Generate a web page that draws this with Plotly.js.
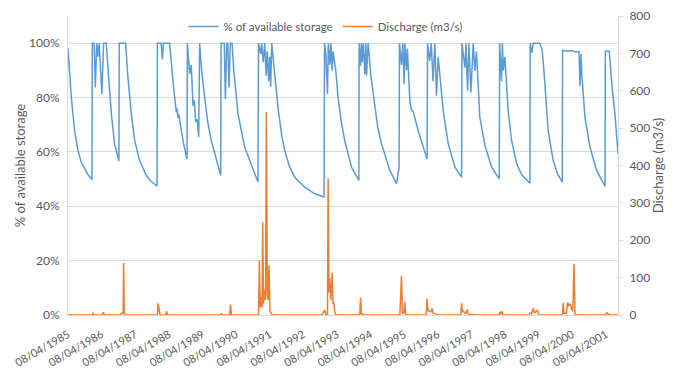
<!DOCTYPE html>
<html>
<head>
<meta charset="utf-8">
<script src="https://cdn.plot.ly/plotly-3.0.1.min.js"></script>
<style>
  html, body { margin: 0; padding: 0; background: #ffffff; }
  #chart { width: 680px; height: 372px; }
</style>
</head>
<body>
<div id="chart"></div>
<script>
// ---- Data ----
const storageDates = [
  "1985-04-08","1985-05-14","1985-06-19","1985-07-25","1985-09-01","1985-10-06","1985-11-10","1985-12-24",
  "1985-12-28","1986-01-17","1986-01-30","1986-02-14","1986-02-27","1986-03-12","1986-04-11","1986-04-30","1986-05-29",
  "1986-06-18","1986-07-23","1986-08-27","1986-10-02","1986-10-13",
  "1986-10-17","1986-12-25",
  "1987-01-19","1987-02-25","1987-04-02","1987-05-26","1987-08-07","1987-10-01","1987-12-01",
  "1987-12-05","1988-01-15","1988-01-28","1988-02-09","1988-04-16",
  "1988-05-22","1988-06-28","1988-07-07","1988-07-16","1988-07-23","1988-08-09","1988-09-09","1988-10-08","1988-10-22",
  "1988-10-26","1988-11-20","1988-12-07","1988-12-26","1989-01-08","1989-01-25","1989-02-10","1989-02-26",
  "1989-03-08","1989-03-30","1989-05-02","1989-06-04","1989-07-14","1989-09-07","1989-10-23",
  "1989-10-27","1989-11-30","1989-12-13","1989-12-27","1990-01-07","1990-01-21","1990-02-04","1990-02-23",
  "1990-03-14","1990-04-29","1990-07-11","1990-09-21","1990-12-02",
  "1990-12-07","1991-01-01","1991-01-11","1991-01-28","1991-02-13","1991-03-01","1991-03-12","1991-03-28","1991-04-08","1991-04-19","1991-04-30","1991-05-15",
  "1991-05-27","1991-07-07","1991-08-17","1991-09-18","1991-11-11","1992-01-05","1992-04-23","1992-08-09","1992-11-19",
  "1992-11-24","1992-12-08","1992-12-26","1993-01-04","1993-01-21","1993-02-01","1993-02-15","1993-02-25",
  "1993-03-26","1993-04-20","1993-05-25","1993-07-02","1993-09-13","1993-12-02",
  "1993-12-05","1993-12-20","1993-12-29","1994-01-08","1994-01-19","1994-02-06","1994-02-16","1994-02-23","1994-03-13",
  "1994-04-11","1994-05-24","1994-06-25","1994-08-05","1994-11-03","1995-01-15","1995-02-01","1995-02-12",
  "1995-02-16","1995-03-10","1995-03-24","1995-04-08","1995-04-16","1995-05-04","1995-05-13",
  "1995-06-09","1995-06-25","1995-07-14","1995-09-07","1995-10-31","1995-12-13",
  "1995-12-18","1996-01-11","1996-01-27","1996-02-16","1996-03-06","1996-03-24","1996-04-11",
  "1996-04-29","1996-06-05","1996-07-30","1996-10-11","1996-12-22",
  "1996-12-26","1997-01-27","1997-02-07","1997-02-25","1997-03-11","1997-04-02","1997-04-27","1997-05-15","1997-06-01",
  "1997-07-08","1997-09-02","1997-11-13","1998-02-04",
  "1998-02-08","1998-03-01","1998-03-10","1998-03-21","1998-04-06",
  "1998-04-22","1998-05-12","1998-06-18","1998-08-12","1998-10-08","1999-01-03",
  "1999-01-06","1999-01-25","1999-02-08","1999-04-19","1999-05-07","1999-05-16",
  "1999-06-07","1999-07-01","1999-07-20","1999-09-13","1999-10-29","1999-12-20",
  "1999-12-24","2000-02-09","2000-04-04","2000-05-17","2000-06-19","2000-06-30","2000-07-11","2000-07-21",
  "2000-08-07","2000-08-23","2000-10-17","2000-12-28","2001-03-29",
  "2001-04-01","2001-05-14","2001-06-13","2001-07-15","2001-08-17"
];
const storagePct = [
  98,80,67.8,60.5,56,53.8,51.7,49.8,
  100,100,83.7,100,95,100,81.3,100,100,
  90,74,63,58.3,56.6,
  100,100,
  87.4,74,64.2,56.8,51.3,49,47.4,
  100,100,94,100,100,
  86,74.5,76,72.5,74,70,64,59.5,57.4,
  100,88.7,92,77,79,71,72,65.4,
  100,90,80,71,64,56.8,51.3,
  100,100,79.5,100,100,83.7,100,100,
  90,74,61.7,55,48.9,
  100,96,100,93,100,88,97,86,95,84,100,95,
  90,76.4,66,60.5,54.5,50.7,47,44.6,43.4,
  100,96,81.3,100,92,100,90,97,
  90,80,71,64,54.4,49.5,
  100,91.7,100,93,100,88.6,100,88,100,
  88,77.6,69,63,53.2,48.3,51.3,54.4,
  100,92,100,85,100,90,98,
  78.8,75.5,75,67.8,61.7,57.4,
  100,93.5,100,86,100,80.7,95,
  88,75.2,63,54.4,50.7,
  100,91,100,82.5,100,81.9,100,89.8,97,
  72.7,62.3,54.4,50.1,
  100,86,100,90,95,
  84,75.2,64.2,55.6,51.5,48.5,
  100,96.5,100,100,98.5,97.5,
  88.6,76,67.8,56.8,52,48.9,
  97.4,97,97.3,96.8,97,84.3,96,88,
  80,72.7,61.7,53.2,47.3,
  97,97,84,74,59.3
];

const dischargeDates = [
  "1985-04-08","1985-12-26","1986-01-04","1986-01-17","1986-04-14","1986-04-27","1986-05-11",
  "1986-10-31","1986-11-07","1986-11-28","1986-12-03","1986-12-10","1986-12-19",
  "1987-12-06","1987-12-12","1987-12-24","1988-01-04","1988-03-05","1988-03-13","1988-03-24",
  "1989-10-23","1989-10-30","1989-11-08","1990-01-29","1990-02-06","1990-02-17",
  "1990-12-08","1990-12-17","1990-12-26","1991-01-06","1991-01-15","1991-01-22","1991-01-31","1991-02-11",
  "1991-02-22","1991-03-03","1991-03-13","1991-03-23","1991-04-01","1991-04-11","1991-04-25","1991-05-06",
  "1992-10-25","1992-11-27","1992-12-08","1992-12-26","1993-01-02","1993-01-11","1993-01-20","1993-01-31",
  "1993-02-15","1993-02-24","1993-03-05","1993-03-16","1993-04-01",
  "1993-12-12","1993-12-20","1993-12-29","1994-01-14","1994-02-05",
  "1995-02-20","1995-03-10","1995-03-20","1995-04-04","1995-04-15","1995-04-26",
  "1995-12-04","1995-12-10","1995-12-13","1995-12-23","1996-01-06","1996-01-22","1996-02-05","1996-02-16","1996-03-17","1996-03-27",
  "1996-12-14","1996-12-22","1996-12-31","1997-01-11","1997-02-07","1997-02-21","1997-03-04","1997-03-23","1997-04-24","1997-05-05",
  "1998-01-31","1998-02-11","1998-02-22","1998-02-27","1998-03-08","1998-03-15",
  "1998-12-28","1999-01-03","1999-01-19","1999-02-08","1999-02-18","1999-03-04","1999-03-28","1999-04-06",
  "1999-12-23","1999-12-31","2000-01-08","2000-02-04","2000-02-17","2000-03-02","2000-03-18","2000-04-01","2000-04-13","2000-04-26","2000-05-07","2000-05-28",
  "2001-04-04","2001-04-16","2001-04-30","2001-05-16","2001-08-17"
];
const dischargeValues = [
  0,0,4.5,0,0,7,0,
  0,5,5,139,9,0,
  0,31,12,0,0,10,0,
  0,5,0,0,28,0,
  0,146,20,48,20,248,30,66,
  40,543,58,40,133,10,3,0,
  0,13,0,0,365,60,98,40,
  113,30,35,5,0,
  0,47,4,2,0,
  0,104,5,5,34,0,
  0,20,43,12,10,8,18,5,3,0,
  0,31,8,10,3,15,3,2,2,0,
  0,8,4,8,10,0,
  0,5,4,18,6,8,13,0,
  0,33,5,5,33,25,30,15,10,137,2,0,
  0,6,4,0,0
];

const storageTicks = [0, 20, 40, 60, 80, 100];
const storageTickLabels = ["0%", "20%", "40%", "60%", "80%", "100%"];
const dischargeTicks = [0, 100, 200, 300, 400, 500, 600, 700, 800];
const dateTicks = [
  "1985-04-08","1986-04-08","1987-04-08","1988-04-08","1989-04-08","1990-04-08",
  "1991-04-08","1992-04-08","1993-04-08","1994-04-08","1995-04-08","1996-04-08",
  "1997-04-08","1998-04-08","1999-04-08","2000-04-08","2001-04-08"
];
const dateTickLabels = [
  "08/04/1985","08/04/1986","08/04/1987","08/04/1988","08/04/1989","08/04/1990",
  "08/04/1991","08/04/1992","08/04/1993","08/04/1994","08/04/1995","08/04/1996",
  "08/04/1997","08/04/1998","08/04/1999","08/04/2000","08/04/2001"
];

// ---- Chart ----
const FONT = "Lato, 'Open Sans', sans-serif";
const GREY = "#595959";
const LINE = "#d9d9d9";

const traces = [
  {
    type: "scatter", mode: "lines", name: "% of available storage",
    x: storageDates, y: storagePct, yaxis: "y",
    line: { color: "#5B9BD5", width: 1.5 }
  },
  {
    type: "scatter", mode: "lines", name: "Discharge (m3/s)",
    x: dischargeDates, y: dischargeValues, yaxis: "y2",
    line: { color: "#ED7D31", width: 1.5 }
  }
];

const layout = {
  width: 680, height: 372,
  margin: { l: 68, r: 62, t: 14, b: 57 },
  paper_bgcolor: "#ffffff", plot_bgcolor: "#ffffff",
  font: { family: FONT, color: GREY, size: 12 },
  showlegend: true,
  legend: {
    orientation: "h", x: 0.21, xanchor: "left", y: 0.965, yanchor: "middle",
    bgcolor: "rgba(0,0,0,0)", font: { size: 11.5, color: GREY },
    itemwidth: 30, tracegroupgap: 0
  },
  xaxis: {
    type: "date",
    range: ["1985-04-08", "2001-08-17"],
    tickmode: "array", tickvals: dateTicks, ticktext: dateTickLabels,
    tickangle: -30, tickfont: { size: 11, color: GREY },
    showgrid: false, zeroline: false,
    showline: true, linecolor: LINE, linewidth: 1,
    ticks: "outside", ticklen: 8, tickcolor: "rgba(0,0,0,0)"
  },
  yaxis: {
    range: [0, 110],
    tickmode: "array", tickvals: storageTicks, ticktext: storageTickLabels,
    tickfont: { size: 12, color: GREY },
    ticklabelstandoff: 5,
    showgrid: true, gridcolor: LINE, gridwidth: 1, zeroline: false,
    showline: true, linecolor: LINE, ticks: "",
    title: { text: "% of available storage", font: { size: 13, color: GREY }, standoff: 0 }
  },
  yaxis2: {
    overlaying: "y", side: "right",
    range: [0, 800],
    tickmode: "array", tickvals: dischargeTicks,
    tickfont: { size: 12, color: GREY },
    ticklabelstandoff: 4,
    showgrid: false, zeroline: false,
    showline: true, linecolor: LINE, ticks: "outside", ticklen: 4, tickcolor: LINE,
    title: { text: "Discharge (m3/s)", font: { size: 13, color: GREY }, standoff: 4 }
  }
};

Plotly.newPlot("chart", traces, layout, { displayModeBar: false, staticPlot: true });
</script>
</body>
</html>
